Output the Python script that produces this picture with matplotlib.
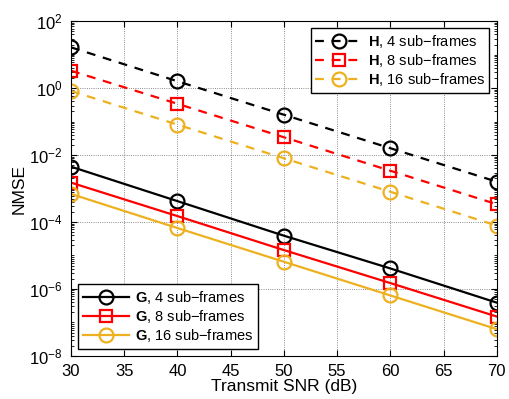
import numpy as np
import matplotlib
matplotlib.use("Agg")
import matplotlib.pyplot as plt
from matplotlib.ticker import LogLocator, FixedLocator, NullFormatter

# -------------------------------
# DATA
# -------------------------------
snr = [30, 40, 50, 60, 70]

h_4 = [16.5, 1.6, 0.16, 0.016, 0.0016]
h_8 = [3.3, 0.34, 0.034, 0.0034, 3.4e-4]
h_16 = [0.82, 0.081, 0.008, 8.0e-4, 7.8e-5]

g_4 = [4.5e-3, 4.2e-4, 3.9e-5, 4.1e-6, 3.9e-7]
g_8 = [1.5e-3, 1.5e-4, 1.45e-5, 1.5e-6, 1.5e-7]
g_16 = [6.9e-4, 6.6e-5, 6.5e-6, 6.4e-7, 6.3e-8]

sub_frames = ["4", "8", "16"]
colors = ["black", "#ff0000", "#edb120"]
markers = ["o", "s", "o"]

# -------------------------------
# STYLE
# -------------------------------
plt.rcParams["font.family"] = ["Liberation Sans", "DejaVu Sans"]
plt.rcParams["mathtext.fontset"] = "custom"
plt.rcParams["mathtext.rm"] = "Liberation Sans"
plt.rcParams["mathtext.bf"] = "Liberation Sans:bold"

fig = plt.figure(figsize=(5.09, 3.99), dpi=100)
ax = fig.add_axes([0.1395, 0.108, 0.8365, 0.839])

# -------------------------------
# LINES
# -------------------------------
h_lines = []
for vals, n, c, m in zip([h_4, h_8, h_16], sub_frames, colors, markers):
    ms = 9 if m == "s" else 10
    line, = ax.plot(snr, vals, linestyle="--", color=c, linewidth=1.6,
                    marker=m, markersize=ms, markerfacecolor="none",
                    markeredgewidth=1.6, dashes=(4, 3.5),
                    label=r"$\mathbf{H}$, " + n + " sub\u2212frames")
    h_lines.append(line)

g_lines = []
for vals, n, c, m in zip([g_4, g_8, g_16], sub_frames, colors, markers):
    ms = 9 if m == "s" else 10
    line, = ax.plot(snr, vals, linestyle="-", color=c, linewidth=1.6,
                    marker=m, markersize=ms, markerfacecolor="none",
                    markeredgewidth=1.6,
                    label=r"$\mathbf{G}$, " + n + " sub\u2212frames")
    g_lines.append(line)

# -------------------------------
# AXES
# -------------------------------
ax.set_yscale("log")
ax.set_xlim(30, 70)
ax.set_ylim(1e-8, 1e2)
ax.set_xticks(np.arange(30, 71, 5))
ax.yaxis.set_major_locator(FixedLocator([1e-8, 1e-6, 1e-4, 1e-2, 1e0, 1e2]))
ax.yaxis.set_minor_locator(LogLocator(base=10, subs=np.arange(1, 10), numticks=50))
ax.yaxis.set_minor_formatter(NullFormatter())

ax.tick_params(which="both", direction="in", top=True, right=True, labelsize=12)
ax.tick_params(which="major", length=4, pad=6)
ax.tick_params(which="minor", length=2)
ax.grid(True, which="major", linestyle=":", color="#666666", linewidth=0.6)

ax.set_xlabel("Transmit SNR (dB)", fontsize=12.5, labelpad=0)
ax.set_ylabel("NMSE", fontsize=12.5, labelpad=2)

leg_h = ax.legend(handles=h_lines, loc="upper right", fontsize=10.5,
                  handlelength=3.2, fancybox=False, edgecolor="black",
                  framealpha=1, borderpad=0.3, labelspacing=0.15,
                  handletextpad=0.4, borderaxespad=0.5)
leg_h.get_frame().set_linewidth(1.0)
ax.add_artist(leg_h)

leg_g = ax.legend(handles=g_lines, loc="lower left", fontsize=10.5,
                  handlelength=3.2, fancybox=False, edgecolor="black",
                  framealpha=1, borderpad=0.3, labelspacing=0.15,
                  handletextpad=0.4, borderaxespad=0.5)
leg_g.get_frame().set_linewidth(1.0)

fig.savefig("out.png", dpi=100)
